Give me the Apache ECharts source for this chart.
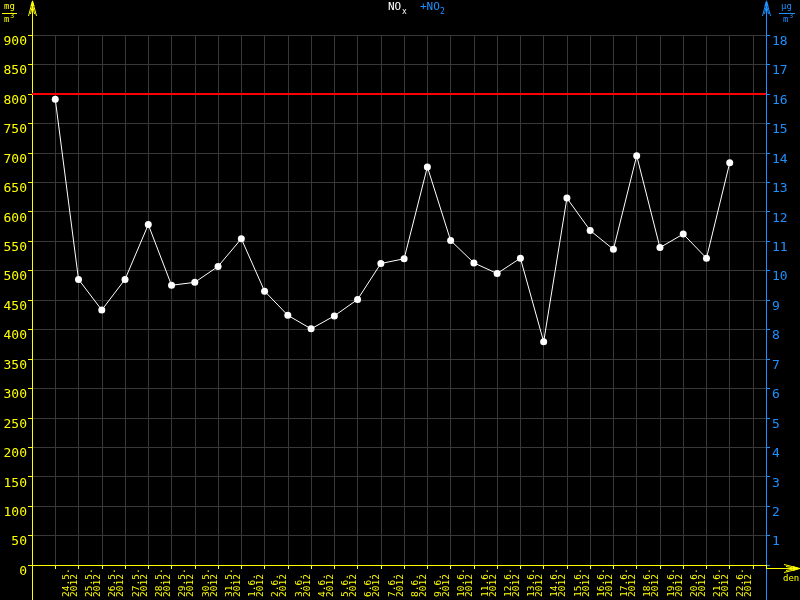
<!DOCTYPE html>
<html>
<head>
<meta charset="utf-8">
<style>html,body{margin:0;padding:0;background:#000;}#chart{width:800px;height:600px;}</style>
<script src="https://cdn.jsdelivr.net/npm/echarts@6/dist/echarts.min.js"></script>
</head>
<body>
<div id="chart"></div>
<script>
// ---- data ----
const dates = ['24.5.','25.5.','26.5.','27.5.','28.5.','29.5.','30.5.','31.5.',
  '1.6.','2.6.','3.6.','4.6.','5.6.','6.6.','7.6.','8.6.','9.6.','10.6.','11.6.',
  '12.6.','13.6.','14.6.','15.6.','16.6.','17.6.','18.6.','19.6.','20.6.','21.6.','22.6.'];
const year = '2012';
const noxValues = [791, 485, 433, 485, 578, 475, 480, 507, 554, 465, 424, 401, 423, 451, 512,
  520, 676, 551, 513, 495, 521, 379, 623, 568, 536, 695, 539, 562, 521, 683];
const limitValue = 800;
const leftAxis = {min: 0, max: 900, interval: 50};
const rightAxis = {min: 0, max: 18, interval: 1};

// ---- style ----
const YEL = '#ffff00', BLUE = '#1e90ff', GRID = '#383838';
const FONT = 'DejaVu Sans Mono';

const chart = echarts.init(document.getElementById('chart'), null, {renderer: 'canvas'});

const seriesData = noxValues.map((v, i) => [i, v]);

const option = {
  backgroundColor: '#000',
  animation: false,
  grid: {left: 32, right: 34, top: 35, bottom: 32, containLabel: false},
  xAxis: [{
    type: 'value', min: -1, max: 30.56, interval: 1,
    axisLine: {show: true, onZero: false, lineStyle: {color: YEL, width: 1}},
    axisTick: {show: true, length: 4, lineStyle: {color: YEL}},
    splitLine: {show: true, lineStyle: {color: GRID, width: 1}},
    axisLabel: {
      show: true, rotate: 90, align: 'left', verticalAlign: 'bottom', margin: 32,
      color: YEL, fontFamily: FONT, fontSize: 9.5, lineHeight: 8,
      showMinLabel: true, showMaxLabel: true,
      formatter: function (v) {
        const j = Math.round(v);
        if (Math.abs(v - j) > 1e-6 || j < 1 || j > dates.length) return '';
        return dates[j - 1] + '\n' + year;
      }
    }
  }],
  yAxis: [{
    type: 'value', position: 'left',
    min: leftAxis.min, max: leftAxis.max, interval: leftAxis.interval,
    axisLine: {show: true, onZero: false, lineStyle: {color: YEL, width: 1}},
    axisTick: {show: true, length: 4, lineStyle: {color: YEL}},
    splitLine: {show: true, lineStyle: {color: GRID, width: 1}},
    axisLabel: {color: YEL, fontFamily: FONT, fontSize: 13, margin: 5, verticalAlign: 'top'}
  }, {
    type: 'value', position: 'right',
    min: rightAxis.min, max: rightAxis.max, interval: rightAxis.interval,
    axisLine: {show: true, onZero: false, lineStyle: {color: BLUE, width: 1}},
    axisTick: {show: true, length: 4, lineStyle: {color: BLUE}},
    splitLine: {show: false},
    axisLabel: {color: BLUE, fontFamily: FONT, fontSize: 13, margin: 6, verticalAlign: 'top',
      formatter: function (v) { return v === 0 ? '' : String(v); }}
  }],
  series: [{
    type: 'line', xAxisIndex: 0, yAxisIndex: 0,
    data: seriesData,
    symbol: 'circle', symbolSize: 7, showSymbol: true,
    itemStyle: {color: '#ffffff'},
    lineStyle: {color: '#ffffff', width: 1},
    z: 5,
    markLine: {
      silent: true, symbol: ['none', 'none'], label: {show: false},
      lineStyle: {color: '#ff0000', width: 2, type: 'solid'},
      data: [{yAxis: limitValue}]
    }
  }],
  graphic: [
    // left axis extensions + arrow
    {type: 'line', z: 100, shape: {x1: 32.5, y1: 35, x2: 32.5, y2: 2}, style: {stroke: YEL, lineWidth: 1}},
    {type: 'line', z: 100, shape: {x1: 32.5, y1: 568, x2: 32.5, y2: 600}, style: {stroke: YEL, lineWidth: 1}},
    {type: 'polyline', z: 100, shape: {points: [[28.5, 16], [32.5, 1], [36.5, 16]]}, style: {stroke: YEL, fill: null, lineWidth: 1}},
    {type: 'polyline', z: 100, shape: {points: [[30.5, 14], [32.5, 5], [34.5, 14]]}, style: {stroke: YEL, fill: null, lineWidth: 1}},
    {type: 'polygon', z: 100, shape: {points: [[32.5, 0], [30.5, 6], [34.5, 6]]}, style: {fill: YEL}},
    // right axis extensions + arrow
    {type: 'line', z: 100, shape: {x1: 766.5, y1: 35, x2: 766.5, y2: 2}, style: {stroke: BLUE, lineWidth: 1}},
    {type: 'line', z: 100, shape: {x1: 766.5, y1: 568, x2: 766.5, y2: 600}, style: {stroke: BLUE, lineWidth: 1}},
    {type: 'polyline', z: 100, shape: {points: [[762.5, 16], [766.5, 1], [770.5, 16]]}, style: {stroke: BLUE, fill: null, lineWidth: 1}},
    {type: 'polyline', z: 100, shape: {points: [[764.5, 14], [766.5, 5], [768.5, 14]]}, style: {stroke: BLUE, fill: null, lineWidth: 1}},
    {type: 'polygon', z: 100, shape: {points: [[766.5, 0], [764.5, 6], [768.5, 6]]}, style: {fill: BLUE}},
    // x axis extension + arrow
    {type: 'line', z: 100, shape: {x1: 766, y1: 568.5, x2: 800, y2: 568.5}, style: {stroke: YEL, lineWidth: 1}},
    {type: 'polyline', z: 100, shape: {points: [[784, 564.5], [800, 568.5], [784, 572.5]]}, style: {stroke: YEL, fill: null, lineWidth: 1}},
    {type: 'polyline', z: 100, shape: {points: [[786, 566.5], [796, 568.5], [786, 570.5]]}, style: {stroke: YEL, fill: null, lineWidth: 1}},
    {type: 'polygon', z: 100, shape: {points: [[800, 568.5], [793, 566], [793, 571]]}, style: {fill: YEL}},
    {type: 'text', z: 100, left: 783, top: 574, style: {text: 'den', fill: YEL, font: '9px "DejaVu Sans Mono"'}},
    // left unit mg/m3
    {type: 'text', z: 100, left: 4, top: 2, style: {text: 'mg', fill: YEL, font: '9px "DejaVu Sans Mono"'}},
    {type: 'line', z: 100, shape: {x1: 2, y1: 13.5, x2: 17, y2: 13.5}, style: {stroke: YEL, lineWidth: 1}},
    {type: 'text', z: 100, left: 4, top: 15, style: {text: 'm', fill: YEL, font: '9px "DejaVu Sans Mono"'}},
    {type: 'text', z: 100, left: 10, top: 13, style: {text: '3', fill: YEL, font: '7px "DejaVu Sans Mono"'}},
    // right unit μg/m3
    {type: 'text', z: 100, left: 781, top: 2, style: {text: 'μg', fill: BLUE, font: '9px "DejaVu Sans Mono"'}},
    {type: 'line', z: 100, shape: {x1: 779, y1: 13.5, x2: 795, y2: 13.5}, style: {stroke: BLUE, lineWidth: 1}},
    {type: 'text', z: 100, left: 783, top: 15, style: {text: 'm', fill: BLUE, font: '9px "DejaVu Sans Mono"'}},
    {type: 'text', z: 100, left: 789, top: 13, style: {text: '3', fill: BLUE, font: '7px "DejaVu Sans Mono"'}},
    // title
    {type: 'text', z: 100, left: 388, top: 2, style: {text: 'NO', fill: '#ffffff', font: '11px "DejaVu Sans Mono"'}},
    {type: 'text', z: 100, left: 402, top: 8, style: {text: 'x', fill: '#ffffff', font: '8px "DejaVu Sans Mono"'}},
    {type: 'text', z: 100, left: 420, top: 2, style: {text: '+NO', fill: BLUE, font: '11px "DejaVu Sans Mono"'}},
    {type: 'text', z: 100, left: 440, top: 8, style: {text: '2', fill: BLUE, font: '8px "DejaVu Sans Mono"'}}
  ]
};
chart.setOption(option);
</script>
</body>
</html>
